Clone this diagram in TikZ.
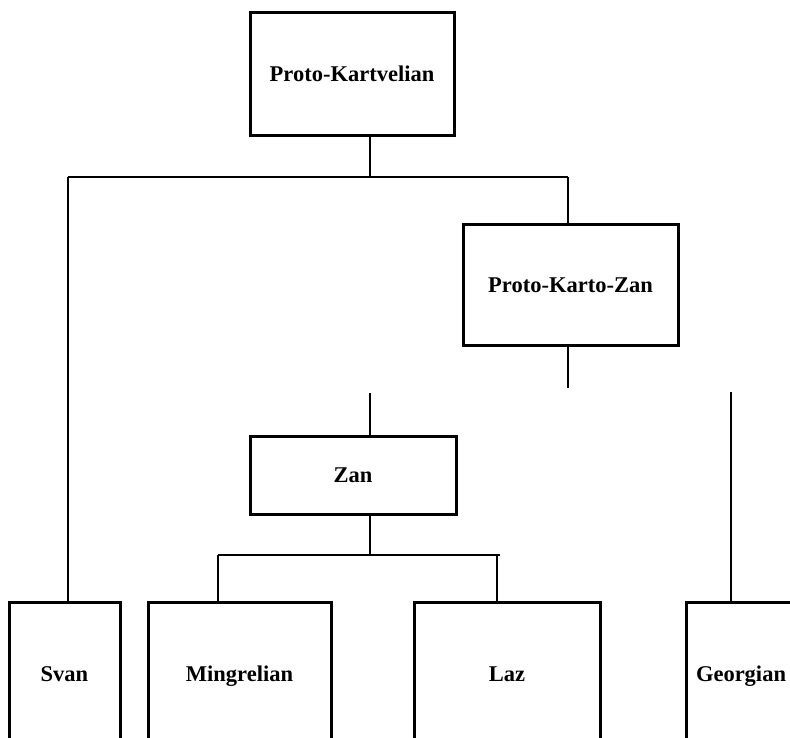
\documentclass[tikz,border=0pt]{standalone}
\usepackage{fontspec}
\setmainfont{Liberation Serif}
\begin{document}
\begin{tikzpicture}[x=1pt,y=-1pt,
  box/.style={draw, line width=3pt, rectangle, inner sep=0pt, outer sep=0pt,
    text height=17pt, text depth=2pt,
    font=\fontsize{22.5}{26}\selectfont\bfseries, align=center},
  link/.style={line width=1.2pt}]
\useasboundingbox (0,0) rectangle (790,737);
\clip (0,0) rectangle (790,737);
% boxes
\node[box, minimum width=204pt, minimum height=123pt] (pk) at (352,73.5) {Proto-Kartvelian};
\node[box, minimum width=215pt, minimum height=121pt] (pkz) at (570.5,284.5) {Proto-Karto-Zan};
\node[box, minimum width=206pt, minimum height=78pt] (zan) at (353,475) {Zan};
\node[box, minimum width=111pt, minimum height=144pt] (svan) at (64.5,674) {Svan};
\node[box, minimum width=183pt, minimum height=144pt] (ming) at (239.5,674) {Mingrelian};
\node[box, minimum width=186pt, minimum height=144pt] (laz) at (507,674) {Laz};
\node[box, minimum width=110pt, minimum height=144pt] (geo) at (741,674) {Georgian};
% junction coordinates
\coordinate (j1) at (370,177);
\coordinate (j1l) at (68,177);
\coordinate (j1r) at (568,177);
\coordinate (j2) at (568,388);
\coordinate (zs) at (370,393);
\coordinate (gs) at (731,392);
\coordinate (j3) at (370,555);
\coordinate (j3l) at (218,555);
\coordinate (j3r) at (497,555);
\coordinate (j3e) at (500,555);
% connectors
\draw[link] (pk.south -| j1) -- (j1);
\draw[link] (j1l) -- (j1r);
\draw[link] (j1l) -- (j1l |- svan.north);
\draw[link] (j1r) -- (j1r |- pkz.north);
\draw[link] (pkz.south -| j2) -- (j2);
\draw[link] (zs) -- (zs |- zan.north);
\draw[link] (gs) -- (gs |- geo.north);
\draw[link] (zan.south -| j3) -- (j3);
\draw[link] (j3l) -- (j3e);
\draw[link] (j3l) -- (j3l |- ming.north);
\draw[link] (j3r) -- (j3r |- laz.north);
\end{tikzpicture}
\end{document}
